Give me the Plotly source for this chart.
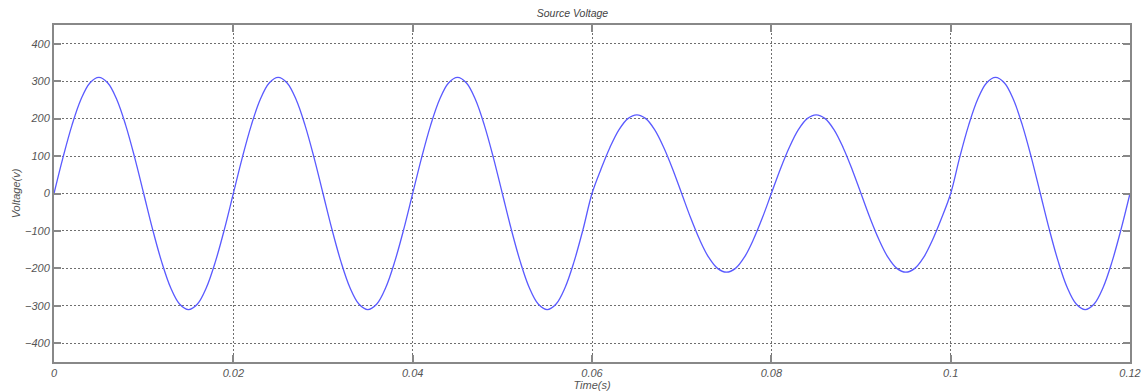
import plotly.graph_objects as go

# Voltage samples every 1 ms (20 per 20 ms cycle)
cycle_310 = [0, 96, 182, 251, 295, 310, 295, 251, 182, 96,
             0, -96, -182, -251, -295, -310, -295, -251, -182, -96]
cycle_210 = [0, 65, 123, 170, 200, 210, 200, 170, 123, 65,
             0, -65, -123, -170, -200, -210, -200, -170, -123, -65]
voltage = cycle_310 + cycle_310 + cycle_310 + cycle_210 + cycle_210 + cycle_310 + [0]
t_step = 0.001

x_ticks = [0, 0.02, 0.04, 0.06, 0.08, 0.1, 0.12]
x_labels = ["0", "0.02", "0.04", "0.06", "0.08", "0.1", "0.12"]
y_ticks = [-400, -300, -200, -100, 0, 100, 200, 300, 400]

tick_font = dict(family="Arial, Liberation Sans", size=11, color="#555555")

fig = go.Figure()
fig.add_trace(go.Scatter(
    x0=0, dx=t_step, y=voltage, mode="lines",
    line=dict(color="#5a5aff", width=1.3, shape="spline", smoothing=1.0),
    showlegend=False,
))

axis_common = dict(
    showline=True, linecolor="#888888", linewidth=2, mirror="ticks",
    ticks="inside", ticklen=7, tickwidth=2, tickcolor="#888888",
    showgrid=True, gridcolor="#6f6f6f", griddash="2px,2px", gridwidth=1,
    zeroline=False, tickfont=dict(**tick_font, style="italic"),
    automargin=False,
)

fig.update_xaxes(
    range=[0, 0.12], tickvals=x_ticks, ticktext=x_labels,
    title=dict(text="Time(s)", font=dict(family="Arial, Liberation Sans", size=11, color="#555555", style="italic"), standoff=2),
    **axis_common,
)
fig.update_yaxes(
    range=[-450, 450], tickvals=y_ticks,
    title=dict(text="Voltage(v)", font=dict(family="Arial, Liberation Sans", size=11, color="#555555", style="italic"), standoff=2),
    **axis_common,
)

fig.update_layout(
    width=1145, height=391,
    margin=dict(l=54, r=15, t=25, b=29),
    paper_bgcolor="white", plot_bgcolor="white",
    title=dict(text="Source Voltage", x=0.5, xanchor="center", y=0.975, yanchor="top",
               font=dict(family="Arial, Liberation Sans", size=10.5, color="#444444", style="italic")),
)

fig.write_html("out.html")
